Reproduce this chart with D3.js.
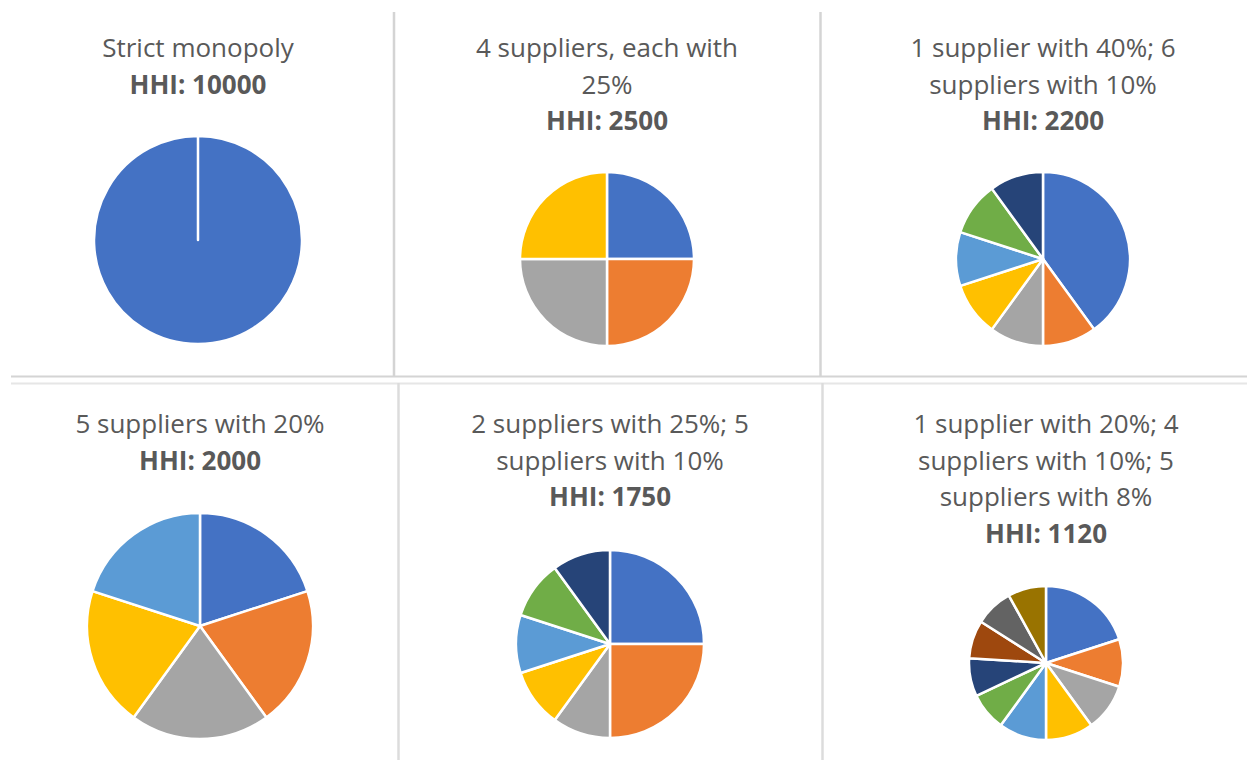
<!DOCTYPE html>
<meta charset="utf-8">
<style>
body { margin: 0; background: #fff; }
svg { font-family: "Open Sans", sans-serif; }
.title { fill: #595959; font-size: 26px; }
.hhi { fill: #595959; font-size: 26px; font-weight: bold; }
</style>
<svg width="1247" height="760"></svg>
<script src="https://cdnjs.cloudflare.com/ajax/libs/d3/7.8.5/d3.min.js"></script>
<script>

// title lines per chart (as wrapped in the original)
var titles = [
  ["Strict monopoly"],
  ["4 suppliers, each with", "25%"],
  ["1 supplier with 40%; 6", "suppliers with 10%"],
  ["5 suppliers with 20%"],
  ["2 suppliers with 25%; 5", "suppliers with 10%"],
  ["1 supplier with 20%; 4", "suppliers with 10%; 5", "suppliers with 8%"]
];
var hhi = [10000, 2500, 2200, 2000, 1750, 1120];
var shares = [
  [100],
  [25, 25, 25, 25],
  [40, 10, 10, 10, 10, 10, 10],
  [20, 20, 20, 20, 20],
  [25, 25, 10, 10, 10, 10, 10],
  [20, 10, 10, 10, 10, 8, 8, 8, 8, 8]
];
var palette = ["#4472C4", "#ED7D31", "#A5A5A5", "#FFC000", "#5B9BD5",
               "#70AD47", "#264478", "#9E480E", "#636363", "#997300"];

// where each chart sits on the page
var panels = [
  {tx: 198, ty: 57, cx: 198, cy: 240, r: 104},
  {tx: 607, ty: 57, cx: 607, cy: 259, r: 87},
  {tx: 1043, ty: 57, cx: 1043, cy: 259, r: 87},
  {tx: 200, ty: 433, cx: 200, cy: 626, r: 113},
  {tx: 610, ty: 433, cx: 610, cy: 644, r: 94},
  {tx: 1046, ty: 433, cx: 1046, cy: 663, r: 77}
];
var lineH = 36.5;

var svg = d3.select("svg");

// chart frame lines
var frame = svg.append("g").attr("fill", "none");
frame.append("line").attr("x1", 394).attr("x2", 394).attr("y1", 12).attr("y2", 377)
    .attr("stroke", "#d4d4d4").attr("stroke-width", 2.5);
frame.append("line").attr("x1", 820.5).attr("x2", 820.5).attr("y1", 12).attr("y2", 377)
    .attr("stroke", "#d4d4d4").attr("stroke-width", 2.5);
frame.append("line").attr("x1", 11).attr("x2", 1247).attr("y1", 376.5).attr("y2", 376.5)
    .attr("stroke", "#d4d4d4").attr("stroke-width", 2);
frame.append("line").attr("x1", 11).attr("x2", 1247).attr("y1", 383.5).attr("y2", 383.5)
    .attr("stroke", "#e6e6e6").attr("stroke-width", 2);
frame.append("line").attr("x1", 398.5).attr("x2", 398.5).attr("y1", 383).attr("y2", 760)
    .attr("stroke", "#dcdcdc").attr("stroke-width", 2.5);
frame.append("line").attr("x1", 822.5).attr("x2", 822.5).attr("y1", 383).attr("y2", 760)
    .attr("stroke", "#dcdcdc").attr("stroke-width", 2.5);

var pie = d3.pie().sort(null).startAngle(0).endAngle(2 * Math.PI - 1e-4);

panels.forEach(function(p, i) {
  var g = svg.append("g");

  var t = g.append("text").attr("text-anchor", "middle");
  titles[i].forEach(function(line, k) {
    t.append("tspan").attr("class", "title")
        .attr("x", p.tx).attr("y", p.ty + k * lineH).text(line);
  });
  t.append("tspan").attr("class", "hhi")
      .attr("x", p.tx).attr("y", p.ty + titles[i].length * lineH)
      .text("HHI: " + hhi[i]);

  var arc = d3.arc().innerRadius(0).outerRadius(p.r);
  var color = d3.scaleOrdinal().domain(d3.range(palette.length)).range(palette);

  g.append("g")
      .attr("transform", "translate(" + p.cx + "," + p.cy + ")")
    .selectAll("path")
    .data(pie(shares[i]))
    .enter().append("path")
      .attr("d", arc)
      .attr("fill", function(d) { return color(d.index); })
      .attr("stroke", "#fff")
      .attr("stroke-width", 2.5)
      .attr("stroke-linejoin", "round");
});

</script>
